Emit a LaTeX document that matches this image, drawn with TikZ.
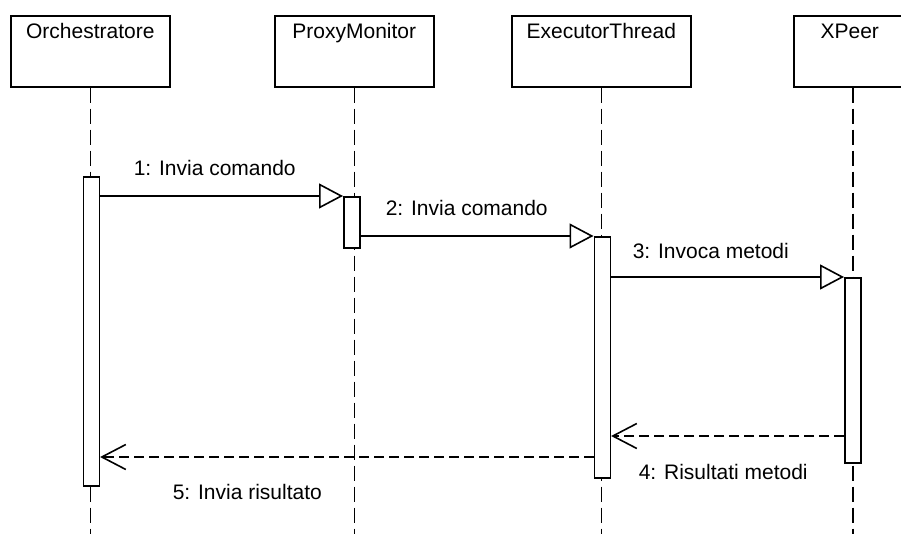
\documentclass[tikz,border=0pt]{standalone}
\usepackage{fontspec}
\setmainfont{Liberation Sans}
\usetikzlibrary{arrows.meta,calc}
\begin{document}
\begin{tikzpicture}[x=1pt,y=-1pt, line width=1.6pt,
  every node/.style={font=\fontsize{21}{24}\selectfont, inner sep=0pt},
  obj/.style={draw, minimum width=159pt, minimum height=71pt, anchor=north west},
  life/.style={dash pattern=on 15pt off 6pt},
  act/.style={draw, fill=white, minimum width=16pt, anchor=north},
  call/.style={-{Triangle[open,length=24pt,width=25pt]}},
  ret/.style={dash pattern=on 10pt off 5pt, -{Straight Barb[length=24pt,width=25pt]}},
  lbl/.style={anchor=base west}]
\useasboundingbox (0,0) rectangle (901,534);
\clip (0,0) rectangle (901,534);
% objects
\node[obj] (orc) at (10,15) {};
\node[obj] (pm) at (274,15) {};
\node[obj, minimum width=179pt] (et) at (511,15) {};
\node[obj, minimum width=118pt] (xp) at (793,15) {};
\node[anchor=base] (orcT) at ($(orc.north)+(0,24)$) {Orchestratore};
\node[anchor=base] (pmT) at ($(pm.north)+(0,24)$) {ProxyMonitor};
\node[anchor=base] (etT) at ($(et.north)+(0,24)$) {ExecutorThread};
\node[anchor=base] (xpT) at ($(xp.north)+(-3,24)$) {XPeer};
% lifelines
\coordinate (orcEnd) at (orc.south |- 0,540);
\coordinate (pmEnd) at (pm.south |- 0,540);
\coordinate (etEnd) at (et.south |- 0,540);
\coordinate (xpEnd) at (xp.south |- 0,540);
\draw[life] (orc.south) -- (orcEnd);
\draw[life] (pm.south) -- (pmEnd);
\draw[life] (et.south) -- (etEnd);
\draw[life] (xp.south) -- (xpEnd);
% activations
\node[act, minimum height=309pt] (orcA) at ($(orc.south |- 0,176)+(1,0)$) {};
\node[act, minimum height=51pt] (pmA) at ($(pm.south |- 0,196)+(-2.5,0)$) {};
\node[act, minimum height=241pt] (etA) at ($(et.south |- 0,236)+(1,0)$) {};
\node[act, minimum height=185pt] (xpA) at ($(xp.south |- 0,277)+(0,0)$) {};
% messages
\draw[call] (orcA.east |- pmA.north) -- (pmA.north west);
\draw[call] (pmA.east |- etA.north) -- (etA.north west);
\draw[call] (etA.east |- xpA.north) -- (xpA.north west);
\coordinate (r4) at (xpA.west |- 0,436);
\coordinate (r5) at (etA.west |- 0,457);
\draw[ret] (r4) -- (etA.east |- r4);
\draw[ret] (r5) -- (orcA.east |- r5);
% labels
\node[lbl] (m1) at (133,176) {1: Invia comando};
\node[lbl] (m2) at (385,216) {2: Invia comando};
\node[lbl] (m3) at (632,259) {3: Invoca metodi};
\node[lbl] (m4) at (638,479) {4: Risultati metodi};
\node[lbl] (m5) at (172,499) {5: Invia risultato};
\end{tikzpicture}
\end{document}
